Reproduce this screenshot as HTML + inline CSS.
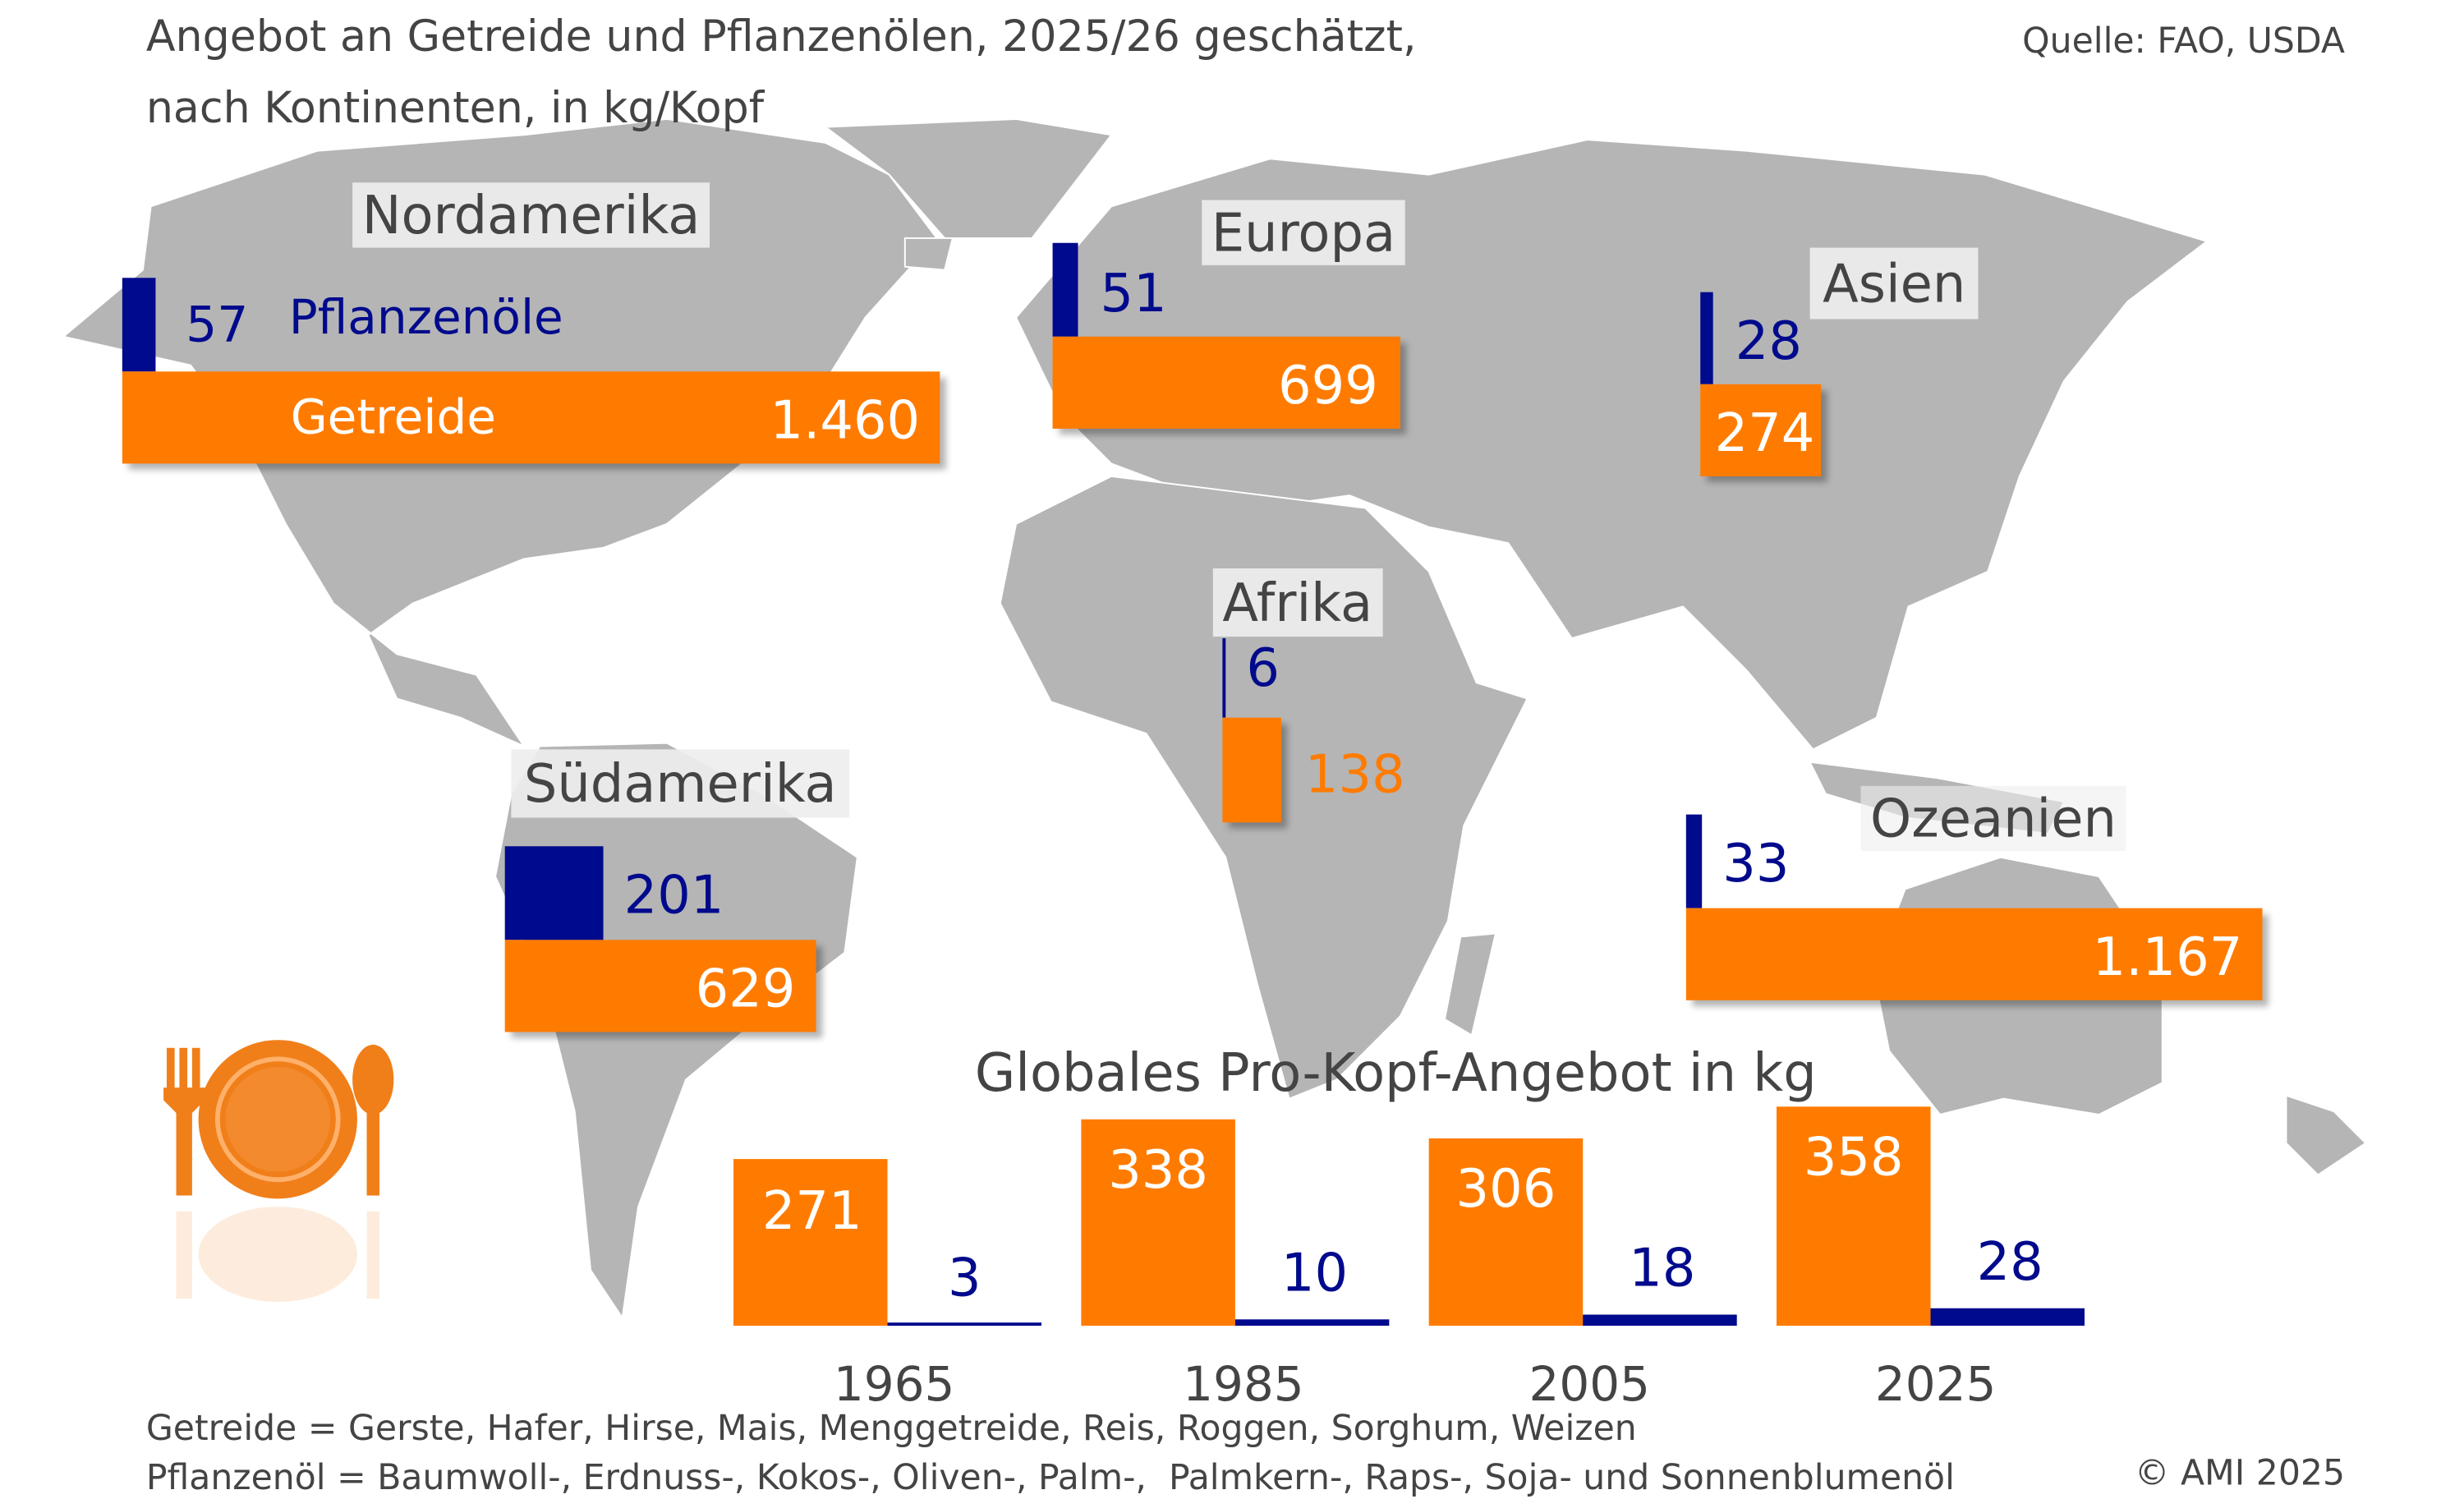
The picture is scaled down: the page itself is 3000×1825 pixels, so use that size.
<!DOCTYPE html>
<html><head><meta charset="utf-8"><style>
html,body{margin:0;padding:0;background:#fff;width:3000px;height:1814px;overflow:hidden}
#s{position:absolute;left:0;top:0;width:1552px;height:938.5px;transform:scale(1.93299);transform-origin:0 0;font-family:"DejaVu Sans","Liberation Sans",sans-serif}
.t{position:absolute;white-space:nowrap;line-height:1}
.b{position:absolute}
.o{background:#ff7b00;box-shadow:4px 4px 4px rgba(0,0,0,0.3)}
.n{background:#000a8c}
.lab{position:absolute;background:rgba(238,238,238,0.92);color:#444;font-size:33px;line-height:1;padding:4px 6px;white-space:nowrap}
.w{color:#fff;font-size:33px}
.nv{color:#000a8c;font-size:33px}
</style></head><body><div id="s">
<svg class="b" style="left:0;top:0" width="1552" height="939" viewBox="0 0 1552 939">
<g fill="#b5b5b5" stroke="#fff" stroke-width="1">
<polygon points="95,130 200,95 330,85 420,75 520,90 560,110 590,150 545,200 520,240 470,290 420,330 380,345 330,352 260,380 232,400 250,440 290,452 330,470 300,425 250,412 210,380 180,330 150,270 120,230 40,212 90,170"/>
<polygon points="520,80 640,75 700,85 650,150 595,150 560,110"/>
<polygon points="570,150 600,150 595,170 570,168"/>
<polygon points="340,470 420,468 480,500 540,540 532,600 480,640 432,680 402,760 392,830 372,800 362,700 342,620 312,552 322,500"/>
<polygon points="640,200 700,130 800,100 900,110 1000,88 1100,95 1250,110 1390,152 1340,190 1300,240 1272,300 1252,360 1202,382 1182,452 1142,472 1100,422 1060,382 990,402 950,342 900,332 850,312 780,322 700,292 670,262"/>
<polygon points="640,330 700,300 780,310 860,320 900,360 930,430 962,440 922,520 912,580 882,640 842,680 812,692 792,620 772,540 722,462 662,442 630,380"/>
<polygon points="920,590 942,588 927,652 910,642"/>
<polygon points="1200,560 1260,540 1322,552 1362,612 1362,682 1322,702 1262,692 1222,702 1190,662 1180,612"/>
<polygon points="1140,480 1220,490 1300,505 1290,525 1200,515 1150,500"/>
<polygon points="1440,690 1470,700 1490,720 1460,740 1440,720"/>
</g></svg>

<div class="t" style="left:92px;top:10px;font-size:27px;color:#444">Angebot an Getreide und Pflanzenölen, 2025/26 geschätzt,</div>
<div class="t" style="left:92px;top:55px;font-size:27px;color:#444">nach Kontinenten, in kg/Kopf</div>
<div class="t" style="right:75px;top:16px;font-size:22px;color:#444">Quelle: FAO, USDA</div>

<!-- Nordamerika -->
<div class="lab" style="left:222px;top:115px">Nordamerika</div>
<div class="b n" style="left:77px;top:175px;width:21px;height:59px"></div>
<div class="t nv" style="left:117px;top:190px;font-size:31px">57</div>
<div class="t nv" style="left:182px;top:186px;font-size:30px">Pflanzenöle</div>
<div class="b o" style="left:77px;top:234px;width:515px;height:58px"></div>
<div class="t w" style="left:183px;top:249px;font-size:30px">Getreide</div>
<div class="t w" style="left:485px;top:248px">1.460</div>

<!-- Europa -->
<div class="lab" style="left:757px;top:126px">Europa</div>
<div class="b n" style="left:663px;top:153px;width:16px;height:59px"></div>
<div class="t nv" style="left:693px;top:168px">51</div>
<div class="b o" style="left:663px;top:212px;width:219px;height:58px"></div>
<div class="t w" style="left:805px;top:226px">699</div>

<!-- Asien -->
<div class="lab" style="left:1140px;top:156px;padding:6px 8px">Asien</div>
<div class="b n" style="left:1071px;top:184px;width:8px;height:58px"></div>
<div class="t nv" style="left:1093px;top:198px">28</div>
<div class="b o" style="left:1071px;top:242px;width:76px;height:58px"></div>
<div class="t w" style="left:1080px;top:256px">274</div>

<!-- Afrika -->
<div class="lab" style="left:764px;top:358px;padding:5px 6px">Afrika</div>
<div class="b n" style="left:770px;top:402px;width:2px;height:50px"></div>
<div class="t nv" style="left:785px;top:404px">6</div>
<div class="b o" style="left:770px;top:452px;width:37px;height:66px"></div>
<div class="t" style="left:822px;top:471px;font-size:33px;color:#ff7b00">138</div>

<!-- Südamerika -->
<div class="lab" style="left:322px;top:472px;padding:5px 8px">Südamerika</div>
<div class="b n" style="left:318px;top:533px;width:62px;height:59px"></div>
<div class="t nv" style="left:393px;top:547px">201</div>
<div class="b o" style="left:318px;top:592px;width:196px;height:58px"></div>
<div class="t w" style="left:438px;top:606px">629</div>

<!-- Ozeanien -->
<div class="lab" style="left:1172px;top:495px;background:rgba(238,238,238,0.6)">Ozeanien</div>
<div class="b n" style="left:1062px;top:513px;width:10px;height:59px"></div>
<div class="t nv" style="left:1085px;top:527px">33</div>
<div class="b o" style="left:1062px;top:572px;width:363px;height:58px"></div>
<div class="t w" style="left:1318px;top:586px">1.167</div>

<!-- Global -->
<div class="t" style="left:614px;top:659px;font-size:33px;color:#444">Globales Pro-Kopf-Angebot in kg</div>
<div class="b o" style="left:462px;top:730px;width:97px;height:105px;box-shadow:none"></div>
<div class="b n" style="left:559px;top:833px;width:97px;height:2px"></div>
<div class="t w" style="left:480px;top:746px">271</div>
<div class="t nv" style="left:597px;top:788px">3</div>
<div class="b o" style="left:681px;top:705px;width:97px;height:130px;box-shadow:none"></div>
<div class="b n" style="left:778px;top:831px;width:97px;height:4px"></div>
<div class="t w" style="left:698px;top:720px">338</div>
<div class="t nv" style="left:807px;top:785px">10</div>
<div class="b o" style="left:900px;top:717px;width:97px;height:118px;box-shadow:none"></div>
<div class="b n" style="left:997px;top:828px;width:97px;height:7px"></div>
<div class="t w" style="left:917px;top:732px">306</div>
<div class="t nv" style="left:1026px;top:782px">18</div>
<div class="b o" style="left:1119px;top:697px;width:97px;height:138px;box-shadow:none"></div>
<div class="b n" style="left:1216px;top:824px;width:97px;height:11px"></div>
<div class="t w" style="left:1136px;top:712px">358</div>
<div class="t nv" style="left:1245px;top:778px">28</div>
<div class="t" style="left:525px;top:858px;font-size:30px;color:#444">1965</div>
<div class="t" style="left:745px;top:858px;font-size:30px;color:#444">1985</div>
<div class="t" style="left:963px;top:858px;font-size:30px;color:#444">2005</div>
<div class="t" style="left:1181px;top:858px;font-size:30px;color:#444">2025</div>

<!-- plate icon -->
<svg class="b" style="left:95px;top:655px" width="160" height="170" viewBox="0 0 160 170">
<g fill="#f07f1a">
<circle cx="80" cy="50" r="50"/>
<rect x="10" y="5" width="5" height="30"/><rect x="18" y="5" width="5" height="30"/><rect x="26" y="5" width="5" height="30"/>
<path d="M8 30 h26 v8 l-8 8 v52 h-10 v-52 l-8 -8z"/>
<ellipse cx="140" cy="25" rx="13" ry="22"/><rect x="136" y="40" width="8" height="58"/>
</g>
<circle cx="80" cy="50" r="38" fill="none" stroke="#ffb06a" stroke-width="3"/>
<circle cx="80" cy="50" r="33" fill="#f38a2e"/>
<g fill="#f07f1a" opacity="0.15">
<ellipse cx="80" cy="135" rx="50" ry="30"/><rect x="16" y="108" width="10" height="55"/><rect x="136" y="108" width="8" height="55"/>
</g>
</svg>

<div class="t" style="left:92px;top:890px;font-size:22px;color:#444">Getreide = Gerste, Hafer, Hirse, Mais, Menggetreide, Reis, Roggen, Sorghum, Weizen</div>
<div class="t" style="left:92px;top:921px;font-size:22px;color:#444">Pflanzenöl = Baumwoll-, Erdnuss-, Kokos-, Oliven-, Palm-,&nbsp; Palmkern-, Raps-, Soja- und Sonnenblumenöl</div>
<div class="t" style="right:75px;top:918px;font-size:22px;color:#444">© AMI 2025</div>
</div></body></html>
